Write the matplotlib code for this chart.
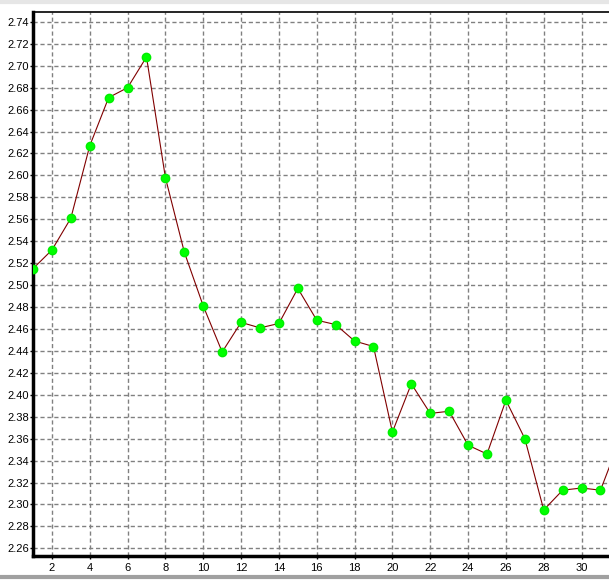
import numpy as np
import matplotlib.pyplot as plt
from matplotlib.lines import Line2D

# valores
dias = list(range(1, 33))
valores = [2.515, 2.532, 2.561, 2.627, 2.671, 2.680, 2.708, 2.598,
           2.530, 2.481, 2.439, 2.466, 2.461, 2.465, 2.497, 2.468,
           2.464, 2.449, 2.444, 2.366, 2.410, 2.383, 2.385, 2.354,
           2.346, 2.395, 2.360, 2.295, 2.313, 2.315, 2.313, 2.358]
xticks = list(range(2, 31, 2))
yticks = np.round(np.arange(2.26, 2.7401, 0.02), 2)

W, H = 609, 581
fig = plt.figure(figsize=(W / 100, H / 100), dpi=100)
ax = fig.add_axes([33 / W, (H - 556) / H, (W - 33) / W, (556 - 12) / H])

ax.plot(dias, valores, color="#800000", linewidth=0.8, zorder=3)
ax.plot(dias, valores, linestyle="none", marker="o", markersize=6,
        markerfacecolor="#00ff00", markeredgecolor="#00ee00", zorder=4)

ax.set_xlim(1, 31.45)
ax.set_ylim(2.253, 2.749)
ax.set_xticks(xticks)
ax.set_yticks(yticks)
ax.set_yticklabels(["%.2f" % v for v in yticks])

ax.grid(True, color="#808080", linestyle=(0, (3, 2)), linewidth=1.0)
ax.set_axisbelow(True)

ax.spines["right"].set_visible(False)
ax.spines["top"].set_linewidth(1.2)
ax.spines["left"].set_linewidth(2.5)
ax.spines["bottom"].set_linewidth(2.5)

ax.tick_params(axis="both", labelsize=8, length=2, width=1, colors="black")
ax.tick_params(axis="y", pad=1)
ax.tick_params(axis="x", pad=3)
for t in ax.get_xticklabels() + ax.get_yticklabels():
    t.set_fontfamily("Liberation Sans")

# barra gris inferior de la ventana
fig.add_artist(Line2D([0, 1], [4 / H, 4 / H], color="#a0a0a0", linewidth=3,
                      transform=fig.transFigure))
fig.add_artist(Line2D([0, 1], [1 - 1.5 / H, 1 - 1.5 / H], color="#e6e6e6",
                      linewidth=3, transform=fig.transFigure))

fig.savefig("out.png", dpi=100)
